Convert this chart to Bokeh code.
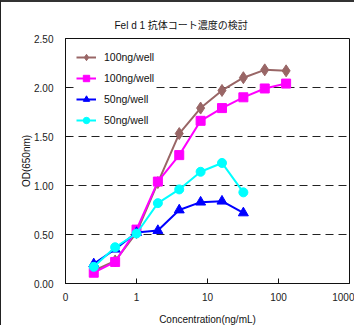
from bokeh.plotting import figure
from bokeh.models import FixedTicker, NumeralTickFormatter, Legend, Title
from bokeh.embed import file_html
from bokeh.resources import INLINE

title_text = "Fel d 1 抗体コート濃度の検討"
x_label = "Concentration(ng/mL)"
y_label = "OD(650nm)"

conc_100 = [0.25, 0.5, 1, 2, 4, 8, 16, 32, 64, 128]
conc_50 = [0.25, 0.5, 1, 2, 4, 8, 16, 32]

brown_100 = [0.13, 0.23, 0.52, 1.03, 1.53, 1.79, 1.97, 2.10, 2.18, 2.17]
magenta_100 = [0.11, 0.22, 0.55, 1.04, 1.31, 1.66, 1.79, 1.90, 1.99, 2.04]
blue_50 = [0.20, 0.35, 0.52, 0.54, 0.75, 0.83, 0.84, 0.72]
cyan_50 = [0.17, 0.37, 0.51, 0.82, 0.96, 1.14, 1.23, 0.93]

series_labels = ["100ng/well", "100ng/well", "50ng/well", "50ng/well"]

x_ticks = [0.1, 1, 10, 100, 1000]
x_tick_labels = ["0", "1", "10", "100", "1000"]
y_ticks = [0, 0.5, 1.0, 1.5, 2.0, 2.5]

FONT = "Liberation Sans, Arial, Noto Sans CJK JP"

p = figure(width=354, height=325, x_axis_type="log",
           x_range=(0.1, 1000), y_range=(0, 2.5),
           output_backend="svg", toolbar_location=None,
           min_border_left=64, min_border_right=6,
           min_border_top=36, min_border_bottom=44)
p.styles = {"border-left": "1px solid #222", "border-top": "2px solid #333"}

p.title.text = title_text
p.title.text_font = FONT
p.title.text_font_size = "10px"
p.title.text_font_style = "normal"
p.title.align = "left"
p.title.offset = 49
p.title.standoff = 15
p.title.text_color = "#111111"

p.outline_line_color = "#111111"
p.outline_line_width = 1
p.background_fill_color = "white"
p.border_fill_color = "white"

# axes
p.xaxis.ticker = FixedTicker(ticks=x_ticks)
p.xaxis.major_label_overrides = {t: l for t, l in zip(x_ticks, x_tick_labels)}
p.yaxis.ticker = FixedTicker(ticks=y_ticks)
p.yaxis.formatter = NumeralTickFormatter(format="0.00")
for ax in (p.xaxis[0], p.yaxis[0]):
    ax.major_tick_in = 5
    ax.major_tick_out = 0
    ax.minor_tick_in = 0
    ax.minor_tick_out = 0
    ax.axis_line_color = "#111111"
    ax.major_tick_line_color = "#111111"
    ax.major_label_text_font = FONT
    ax.major_label_text_font_size = "10px"
    ax.major_label_text_color = "#222222"
    ax.axis_label_text_font = FONT
    ax.axis_label_text_font_size = "10px"
    ax.axis_label_text_font_style = "normal"
    ax.axis_label_text_color = "#111111"
p.xaxis.axis_label = x_label
p.xaxis.major_label_standoff = 9
p.xaxis.axis_label_standoff = 10
p.yaxis.major_label_standoff = 12

# y-axis title as a left-side title, tight against the tick labels
p.add_layout(Title(text=y_label, align="center", standoff=0,
                   text_font=FONT, text_font_size="10px",
                   text_font_style="normal", text_color="#111111"), "left")

p.xgrid.grid_line_color = None
p.ygrid.ticker = FixedTicker(ticks=[0.5, 1.0, 1.5, 2.0])
p.ygrid.grid_line_color = "#222222"
p.ygrid.grid_line_dash = "8 5"
p.ygrid.grid_line_width = 1

colors = ["#996666", "#FF00FF", "#0000FF", "#00FFFF"]
markers = ["diamond", "square", "triangle", "circle"]
sizes = [12, 9, 10, 9]
xs = [conc_100, conc_100, conc_50, conc_50]
ys = [brown_100, magenta_100, blue_50, cyan_50]

items = []
for xv, yv, c, m, s, lab in zip(xs, ys, colors, markers, sizes, series_labels):
    r1 = p.line(xv, yv, line_color=c, line_width=2)
    r2 = p.scatter(xv, yv, marker=m, size=s, fill_color=c, line_color=c)
    items.append((lab, [r1, r2]))

legend = Legend(items=items, location="top_left")
legend.margin = 11
legend.padding = 6
legend.spacing = 5
legend.glyph_width = 20
legend.glyph_height = 16
legend.label_height = 16
legend.label_standoff = 8
legend.label_text_font = FONT
legend.label_text_font_size = "10.5px"
legend.label_text_color = "#111111"
legend.border_line_color = None
legend.background_fill_color = "white"
legend.background_fill_alpha = 1.0
p.add_layout(legend, "center")

open("out.html", "w").write(file_html(p, INLINE))
